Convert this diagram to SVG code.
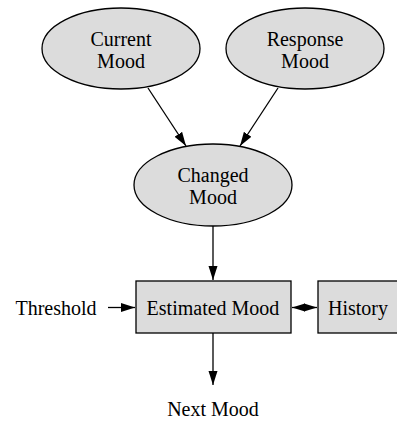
<svg xmlns="http://www.w3.org/2000/svg" width="397" height="423" viewBox="0 0 397 423">
<style>
.n{fill:#dcdcdc;stroke:#000;stroke-width:1.3}
text{font-family:"Liberation Serif","Times New Roman",serif;font-size:20px;fill:#000;text-anchor:middle}
.c{stroke:#000;stroke-width:1.3;fill:none}
</style>
<defs>
<marker id="ah" viewBox="0 0 13 10" refX="13" refY="5" markerWidth="13" markerHeight="10" markerUnits="userSpaceOnUse" orient="auto-start-reverse">
<path d="M0,1 L13,5 L0,9 z" fill="#000"/>
</marker>
<marker id="ab" viewBox="0 0 14 10" refX="14" refY="5" markerWidth="14" markerHeight="10" markerUnits="userSpaceOnUse" orient="auto-start-reverse">
<path d="M0,0.5 L14,5 L0,9.5 z" fill="#000"/>
</marker>
</defs>
<g id="current-mood"><ellipse class="n" cx="121" cy="48.5" rx="79" ry="40.5"/><text x="121" y="45.5">Current</text><text x="121" y="67.5">Mood</text></g>
<g id="response-mood"><ellipse class="n" cx="305" cy="48.5" rx="79" ry="40.5"/><text x="305" y="45.5">Response</text><text x="305" y="67.5">Mood</text></g>
<g id="changed-mood"><ellipse class="n" cx="213" cy="185" rx="79" ry="41"/><text x="213" y="182">Changed</text><text x="213" y="204">Mood</text></g>
<g id="estimated-mood"><rect class="n" x="136" y="281" width="155" height="52"/><text x="213" y="315">Estimated Mood</text></g>
<g id="history"><rect class="n" x="318" y="281" width="82" height="52"/><text x="358" y="315">History</text></g>
<g id="threshold"><text x="56" y="315">Threshold</text></g>
<g id="next-mood"><text x="213" y="416">Next Mood</text></g>
<g id="connectors">
<line class="c" x1="148" y1="88" x2="186" y2="146" marker-end="url(#ab)"/>
<line class="c" x1="278" y1="88" x2="240" y2="146" marker-end="url(#ab)"/>
<line class="c" x1="213" y1="226" x2="213" y2="280" marker-end="url(#ab)"/>
<line class="c" x1="108" y1="307.5" x2="135" y2="307.5" marker-end="url(#ab)"/>
<line class="c" x1="292" y1="307.5" x2="317" y2="307.5" marker-start="url(#ah)" marker-end="url(#ah)"/>
<line class="c" x1="213" y1="333" x2="213" y2="385" marker-end="url(#ab)"/>
</g>
</svg>
